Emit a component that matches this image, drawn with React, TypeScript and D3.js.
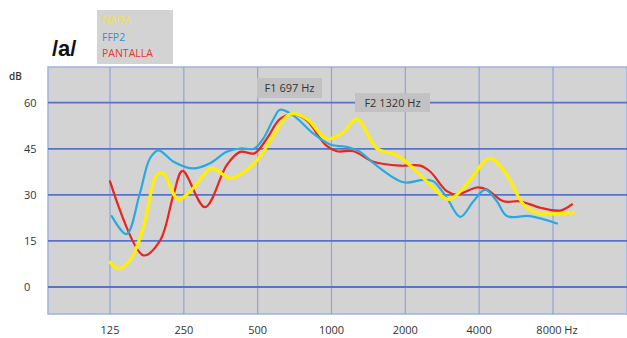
import React, { useRef, useEffect } from "react"
import * as d3 from "d3"

// frequency (Hz) / level (dB) pairs
const nadaFreq = [125, 135, 151, 171, 194, 206, 237, 273, 325, 386, 451, 511, 580, 678, 793, 927, 987, 1118, 1268, 1531, 1847, 2159, 2524, 2998, 3451, 4436, 5188, 6062, 6878, 9707]
const nadaDb = [8.1, 6.0, 8.7, 19.4, 36.5, 37.0, 28.5, 32.2, 38.6, 35.4, 38.1, 42.4, 49.4, 56.3, 54.7, 48.8, 48.3, 50.4, 54.7, 45.1, 42.9, 38.6, 33.3, 28.5, 32.2, 41.9, 36.5, 26.9, 24.2, 24.2]

const ffp2Freq = [127, 146, 165, 182, 197, 227, 273, 320, 374, 424, 485, 527, 580, 617, 700, 844, 987, 1154, 1308, 1483, 1966, 2370, 2604, 2953, 3348, 3792, 4232, 4724, 5188, 6458, 8302]
const ffp2Db = [23.1, 17.2, 30.1, 41.9, 44.5, 40.8, 38.6, 40.3, 44.0, 45.1, 45.1, 48.3, 54.7, 57.7, 55.8, 49.9, 46.4, 45.6, 44.0, 40.3, 34.1, 34.9, 34.4, 29.0, 22.8, 27.9, 31.7, 27.9, 23.1, 23.1, 20.7]

const pantallaFreq = [125, 171, 200, 227, 247, 305, 374, 424, 485, 545, 617, 700, 793, 948, 1051, 1228, 1483, 1905, 2297, 2524, 2953, 3245, 3919, 4300, 5026, 5881, 7097, 8568, 9556]
const pantallaDb = [34.4, 10.3, 15.1, 30.1, 37.8, 26.0, 39.7, 44.0, 43.5, 48.3, 54.7, 56.3, 54.2, 46.2, 44.2, 44.2, 40.8, 39.5, 39.5, 37.6, 31.2, 30.1, 32.4, 31.7, 27.9, 27.9, 25.8, 24.9, 26.9]

const xTicks = [125, 250, 500, 1000, 2000, 4000, 8000]
const yTicks = [0, 15, 30, 45, 60]

const seriesNames = ["NADA", "FFP2", "PANTALLA"]
const seriesColors = ["#fff000", "#2aa8e0", "#e8261e"]
const legendColors = ["#f0e23a", "#3b8ad6", "#e8352a"]

const W = 627
const H = 338
const FONT = "Open Sans, sans-serif"

const App = () => {
  const ref = useRef(null)

  useEffect(() => {
    if (!ref.current) return
    const svg = d3.select(ref.current)
    svg.selectAll("*").remove()

    const plot = { left: 48, top: 67, right: 627, bottom: 314 }

    const x = d3.scaleLog().base(2).domain([125, 8000]).range([110, 553])
    const y = d3.scaleLinear().domain([0, 60]).range([287, 102.7])

    // plot background
    svg.append("rect")
      .attr("x", plot.left).attr("y", plot.top)
      .attr("width", plot.right - plot.left).attr("height", plot.bottom - plot.top)
      .attr("fill", "#d4d3d3")
      .attr("stroke", "#9fb2de").attr("stroke-width", 1.5)

    // vertical grid
    svg.append("g").selectAll("line").data(xTicks).join("line")
      .attr("x1", d => x(d)).attr("x2", d => x(d))
      .attr("y1", plot.top).attr("y2", plot.bottom)
      .attr("stroke", "#8ea3d8").attr("stroke-width", 1.2)

    // horizontal grid
    svg.append("g").selectAll("line").data(yTicks).join("line")
      .attr("x1", plot.left).attr("x2", plot.right)
      .attr("y1", d => y(d)).attr("y2", d => y(d))
      .attr("stroke", "#5673c9").attr("stroke-width", 1.8)

    // axis labels
    svg.append("g").selectAll("text").data(yTicks).join("text")
      .attr("x", 24).attr("y", d => y(d) + 4)
      .attr("font-family", FONT).attr("font-size", 11)
      .attr("fill", "#333")
      .text(d => d)

    svg.append("text")
      .attr("x", 9).attr("y", 80)
      .attr("font-family", FONT).attr("font-size", 10).attr("font-weight", 600)
      .attr("fill", "#333")
      .text("dB")

    svg.append("g").selectAll("text").data(xTicks).join("text")
      .attr("x", d => x(d) + (d === 8000 ? 4 : 0)).attr("y", 334)
      .attr("text-anchor", "middle")
      .attr("font-family", FONT).attr("font-size", 11)
      .attr("fill", "#333")
      .text(d => (d === 8000 ? "8000 Hz" : d))

    // formant annotations
    const notes = [
      { label: "F1 697 Hz", x: 257, y: 78, w: 65, h: 20 },
      { label: "F2 1320 Hz", x: 355, y: 93, w: 75, h: 19 },
    ]
    const ng = svg.append("g").selectAll("g").data(notes).join("g")
    ng.append("rect")
      .attr("x", d => d.x).attr("y", d => d.y)
      .attr("width", d => d.w).attr("height", d => d.h)
      .attr("fill", "#c3c2c2")
    ng.append("text")
      .attr("x", d => d.x + d.w / 2).attr("y", d => d.y + d.h / 2 + 4)
      .attr("text-anchor", "middle")
      .attr("font-family", FONT).attr("font-size", 11)
      .attr("fill", "#333")
      .text(d => d.label)

    // curves
    const series = [
      { f: nadaFreq, v: nadaDb },
      { f: ffp2Freq, v: ffp2Db },
      { f: pantallaFreq, v: pantallaDb },
    ]
    const line = d3.line()
      .x(d => x(d[0]))
      .y(d => y(d[1]))
      .curve(d3.curveCatmullRom.alpha(0.5))

    // draw red, blue, then yellow on top
    const order = [2, 1, 0]
    const widths = [3.2, 2.2, 2.2]
    order.forEach(i => {
      const pts = series[i].f.map((f, j) => [f, series[i].v[j]])
      svg.append("path")
        .attr("d", line(pts))
        .attr("fill", "none")
        .attr("stroke", seriesColors[i])
        .attr("stroke-width", widths[i])
        .attr("stroke-linecap", "round")
        .attr("stroke-linejoin", "round")
    })

    // title
    svg.append("text")
      .attr("x", 52).attr("y", 56)
      .attr("font-family", "Liberation Sans, Arial, sans-serif")
      .attr("font-weight", "bold").attr("font-size", 22)
      .attr("fill", "#111")
      .text("/a/")

    // legend
    svg.append("rect")
      .attr("x", 97).attr("y", 10).attr("width", 76).attr("height", 54)
      .attr("fill", "#d4d3d3")
    svg.append("g").selectAll("text").data(seriesNames).join("text")
      .attr("x", 102).attr("y", (d, i) => 24 + i * 16.5)
      .attr("font-family", FONT).attr("font-size", 10.5)
      .attr("fill", (d, i) => legendColors[i])
      .text(d => d)
  }, [])

  return (
    <svg
      ref={ref}
      width={W}
      height={H}
      style={{ position: "absolute", left: 0, top: 0, background: "#fff" }}
    />
  )
}

export default App
